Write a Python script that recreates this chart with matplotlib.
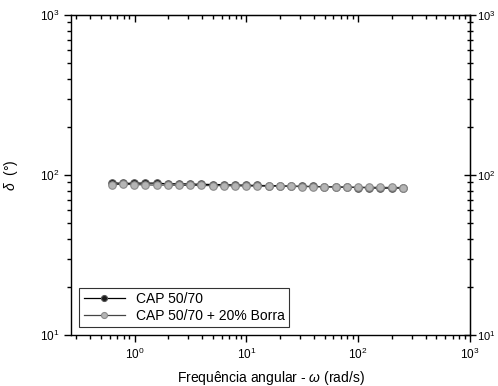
import math
import matplotlib
matplotlib.use('Agg')
import matplotlib.pyplot as plt
from matplotlib.ticker import LogLocator, NullFormatter, FixedLocator

plt.rcParams['font.family'] = ['Liberation Sans', 'DejaVu Sans']
plt.rcParams['mathtext.fontset'] = 'custom'
plt.rcParams['mathtext.rm'] = 'Liberation Sans'
plt.rcParams['mathtext.it'] = 'Liberation Sans:italic'

# angular frequency sweep (rad/s)
omega = [0.628, 0.791, 0.995, 1.25, 1.58, 1.99, 2.50, 3.15, 3.96, 4.99,
         6.28, 7.91, 9.95, 12.5, 15.8, 19.9, 25.0, 31.5, 39.6, 49.9,
         62.8, 79.1, 99.5, 125, 158, 199, 251]

# phase angle (degrees)
delta_cap = [89.5, 88.5, 89.0, 89.0, 89.0, 88.0, 88.2, 87.8, 87.5, 87.2,
             87.0, 86.6, 86.4, 86.0, 85.9, 85.6, 85.2, 85.0, 84.8, 84.5,
             84.2, 83.8, 83.5, 83.2, 82.6, 83.0, 82.8]
delta_borra = [87.0, 87.6, 87.0, 86.8, 86.4, 86.6, 86.2, 86.2, 86.0, 85.8,
               85.7, 85.5, 85.3, 85.2, 85.0, 84.9, 84.8, 84.6, 84.5, 84.3,
               84.2, 84.0, 83.9, 83.8, 83.7, 83.6, 83.5]

xticks = [1, 10, 100, 1000]
yticks = [10, 100, 1000]


def pow_labels(vals):
    return [r'$\mathregular{10^{%d}}$' % round(math.log10(v)) for v in vals]


def minor_loc():
    return LogLocator(base=10, subs=range(2, 10), numticks=20)


fig = plt.figure(figsize=(4.98, 3.86), dpi=100)
ax = fig.add_axes([71 / 498, 1 - 335 / 386, 399 / 498, 320 / 386])

ax.plot(omega, delta_cap, '-o', color='black', lw=0.9, ms=5.4,
        mfc='#1a1a1a', mec='#555555', mew=0.8, label='CAP 50/70')
ax.plot(omega, delta_borra, '-o', color='#444444', lw=0.9, ms=5.4,
        mfc='#b5b5b5', mec='#8a8a8a', mew=0.8, label='CAP 50/70 + 20% Borra')

ax.set_xscale('log')
ax.set_yscale('log')
ax.set_xlim(0.27, 1000)
ax.set_ylim(10, 1000)

ax.xaxis.set_major_locator(FixedLocator(xticks))
ax.set_xticklabels(pow_labels(xticks))
ax.yaxis.set_major_locator(FixedLocator(yticks))
ax.set_yticklabels(pow_labels(yticks))
ax.xaxis.set_minor_locator(minor_loc())
ax.yaxis.set_minor_locator(minor_loc())
ax.xaxis.set_minor_formatter(NullFormatter())
ax.yaxis.set_minor_formatter(NullFormatter())

ax.tick_params(which='major', direction='out', length=5, width=1, labelsize=8.5,
               top=False, right=False)
ax.tick_params(which='minor', direction='out', length=3, width=1,
               top=False, right=False)
for s in ax.spines.values():
    s.set_linewidth(1)

# top axis: inward ticks, no labels
top = ax.secondary_xaxis('top')
top.xaxis.set_major_locator(FixedLocator(xticks))
top.xaxis.set_minor_locator(minor_loc())
top.xaxis.set_major_formatter(NullFormatter())
top.xaxis.set_minor_formatter(NullFormatter())
top.tick_params(which='major', direction='in', length=5, width=1)
top.tick_params(which='minor', direction='in', length=3, width=1)

# right axis: crossing ticks with labels
right = ax.secondary_yaxis('right')
right.yaxis.set_major_locator(FixedLocator(yticks))
right.set_yticklabels(pow_labels(yticks))
right.yaxis.set_minor_locator(minor_loc())
right.yaxis.set_minor_formatter(NullFormatter())
right.tick_params(which='major', direction='inout', length=8, width=1,
                  labelsize=8, pad=1)
right.tick_params(which='minor', direction='inout', length=5, width=1)

ax.set_xlabel(r'Frequência angular - $\omega$ (rad/s)', fontsize=10, labelpad=5)
ax.set_ylabel(r'$\delta$  (°)', fontsize=10, labelpad=14)

leg = ax.legend(loc='lower left', fontsize=10, frameon=True, fancybox=False,
                edgecolor='black', handlelength=3, borderpad=0.3,
                labelspacing=0.2, markerscale=0.8, borderaxespad=0.6)
leg.get_frame().set_linewidth(0.8)

fig.savefig('out.png', dpi=100)
